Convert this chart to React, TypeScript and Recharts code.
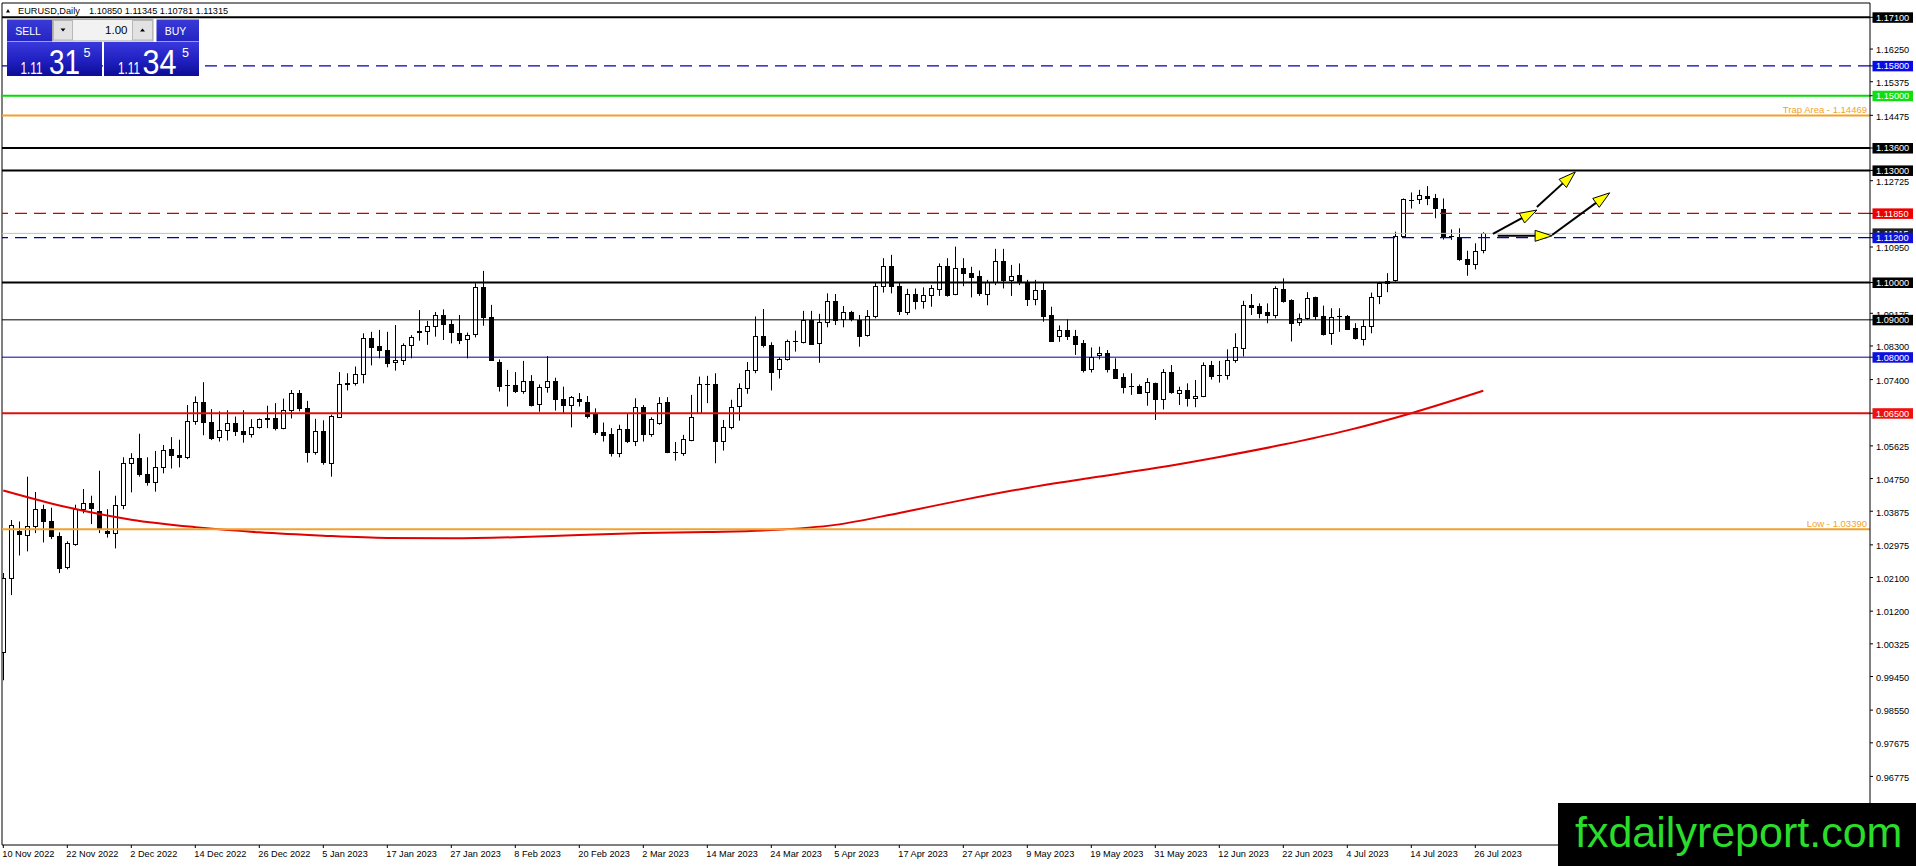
import React from 'react';
import { ComposedChart, Bar, Line, XAxis, YAxis, ReferenceLine } from 'recharts';

const FONT = '"Liberation Sans", Arial, sans-serif';

// ---------- DATA ----------
const xTickIndex = [0, 8, 16, 24, 32, 40, 48, 56, 64, 72, 80, 88, 96, 104, 112, 120, 128, 136, 144, 152, 160, 168, 176, 184];
const xTickLabels = [
  '10 Nov 2022', '22 Nov 2022', '2 Dec 2022', '14 Dec 2022', '26 Dec 2022', '5 Jan 2023',
  '17 Jan 2023', '27 Jan 2023', '8 Feb 2023', '20 Feb 2023', '2 Mar 2023', '14 Mar 2023',
  '24 Mar 2023', '5 Apr 2023', '17 Apr 2023', '27 Apr 2023', '9 May 2023', '19 May 2023',
  '31 May 2023', '12 Jun 2023', '22 Jun 2023', '4 Jul 2023', '14 Jul 2023', '26 Jul 2023',
];

const opens = [
  1.0009, 1.0208, 1.0334, 1.0323, 1.0348, 1.0394, 1.0362, 1.0322, 1.0240, 1.0299,
  1.0393, 1.0409, 1.0389, 1.0334, 1.0329, 1.0404, 1.0516, 1.0530, 1.0487, 1.0465,
  1.0505, 1.0554, 1.0538, 1.0532, 1.0629, 1.0679, 1.0626, 1.0586, 1.0604, 1.0623,
  1.0602, 1.0594, 1.0613, 1.0637, 1.0637, 1.0609, 1.0658, 1.0704, 1.0663, 1.0546,
  1.0602, 1.0518, 1.0639, 1.0731, 1.0729, 1.0754, 1.0851, 1.0829, 1.0819, 1.0786,
  1.0792, 1.0832, 1.0871, 1.0869, 1.0883, 1.0912, 1.0888, 1.0864, 1.0848, 1.0860,
  1.0987, 1.0907, 1.0786, 1.0725, 1.0725, 1.0708, 1.0736, 1.0675, 1.0719, 1.0735,
  1.0687, 1.0671, 1.0687, 1.0681, 1.0648, 1.0601, 1.0594, 1.0543, 1.0607, 1.0574,
  1.0666, 1.0594, 1.0623, 1.0679, 1.0546, 1.0543, 1.0577, 1.0650, 1.0727, 1.0727,
  1.0574, 1.0612, 1.0670, 1.0717, 1.0765, 1.0856, 1.0832, 1.0768, 1.0794, 1.0843,
  1.0841, 1.0900, 1.0837, 1.0893, 1.0950, 1.0901, 1.0920, 1.0900, 1.0858, 1.0909,
  1.0990, 1.1043, 1.0990, 1.0922, 1.0969, 1.0951, 1.0965, 1.0983, 1.1044, 1.0968,
  1.1038, 1.1026, 1.1017, 1.0971, 1.1002, 1.1057, 1.1007, 1.1020, 1.1002, 1.0957,
  1.0980, 1.0913, 1.0858, 1.0873, 1.0858, 1.0837, 1.0768, 1.0804, 1.0810, 1.0769,
  1.0748, 1.0724, 1.0723, 1.0705, 1.0730, 1.0687, 1.0759, 1.0703, 1.0711, 1.0690,
  1.0696, 1.0780, 1.0750, 1.0752, 1.0791, 1.0826, 1.0941, 1.0937, 1.0920, 1.0913,
  1.0983, 1.0953, 1.0893, 1.0904, 1.0960, 1.0911, 1.0864, 1.0910, 1.0910, 1.0877,
  1.0850, 1.0884, 1.0962, 1.0999, 1.1005, 1.1124, 1.1222, 1.1223, 1.1231, 1.1225,
  1.1198, 1.1125, 1.1121, 1.1062, 1.1049, 1.1085,
];

const highs = [
  1.0222, 1.0364, 1.0360, 1.0480, 1.0439, 1.0405, 1.0397, 1.0331, 1.0307, 1.0405,
  1.0447, 1.0429, 1.0496, 1.0393, 1.0429, 1.0532, 1.0543, 1.0595, 1.0532, 1.0549,
  1.0565, 1.0586, 1.0579, 1.0672, 1.0695, 1.0733, 1.0661, 1.0655, 1.0658, 1.0641,
  1.0658, 1.0634, 1.0636, 1.0670, 1.0677, 1.0689, 1.0712, 1.0712, 1.0683, 1.0635,
  1.0631, 1.0646, 1.0760, 1.0757, 1.0775, 1.0864, 1.0868, 1.0873, 1.0868, 1.0886,
  1.0837, 1.0859, 1.0926, 1.0897, 1.0921, 1.0928, 1.0900, 1.0913, 1.0866, 1.0998,
  1.1031, 1.0940, 1.0794, 1.0766, 1.0760, 1.0790, 1.0752, 1.0727, 1.0803, 1.0745,
  1.0721, 1.0696, 1.0704, 1.0696, 1.0663, 1.0625, 1.0610, 1.0619, 1.0650, 1.0690,
  1.0672, 1.0639, 1.0693, 1.0693, 1.0573, 1.0592, 1.0699, 1.0748, 1.0750, 1.0757,
  1.0632, 1.0686, 1.0730, 1.0787, 1.0909, 1.0929, 1.0840, 1.0800, 1.0847, 1.0871,
  1.0924, 1.0924, 1.0916, 1.0971, 1.0969, 1.0937, 1.0924, 1.0913, 1.0926, 1.1000,
  1.1065, 1.1074, 1.1000, 1.0983, 1.0984, 1.0987, 1.0993, 1.1051, 1.1065, 1.1096,
  1.1065, 1.1042, 1.1032, 1.1007, 1.1090, 1.1090, 1.1047, 1.1051, 1.1007, 1.1007,
  1.1000, 1.0935, 1.0885, 1.0901, 1.0873, 1.0846, 1.0826, 1.0828, 1.0819, 1.0797,
  1.0757, 1.0757, 1.0727, 1.0744, 1.0732, 1.0768, 1.0779, 1.0721, 1.0730, 1.0739,
  1.0786, 1.0790, 1.0790, 1.0821, 1.0864, 1.0951, 1.0969, 1.0944, 1.0944, 1.0990,
  1.1011, 1.0955, 1.0917, 1.0974, 1.0962, 1.0938, 1.0931, 1.0931, 1.0913, 1.0891,
  1.0900, 1.0973, 1.1002, 1.1025, 1.1136, 1.1225, 1.1241, 1.1248, 1.1258, 1.1237,
  1.1225, 1.1142, 1.1145, 1.1085, 1.1105, 1.11345,
];

const lows = [
  0.9935, 1.0163, 1.0269, 1.0280, 1.0329, 1.0304, 1.0313, 1.0222, 1.0232, 1.0295,
  1.0382, 1.0353, 1.0329, 1.0317, 1.0288, 1.0393, 1.0438, 1.0480, 1.0456, 1.0440,
  1.0489, 1.0502, 1.0505, 1.0527, 1.0619, 1.0591, 1.0578, 1.0574, 1.0577, 1.0589,
  1.0571, 1.0585, 1.0609, 1.0610, 1.0604, 1.0607, 1.0636, 1.0655, 1.0518, 1.0539,
  1.0512, 1.0480, 1.0637, 1.0711, 1.0724, 1.0730, 1.0778, 1.0797, 1.0773, 1.0764,
  1.0779, 1.0797, 1.0844, 1.0833, 1.0855, 1.0846, 1.0837, 1.0835, 1.0797, 1.0853,
  1.0884, 1.0790, 1.0708, 1.0668, 1.0704, 1.0702, 1.0668, 1.0654, 1.0705, 1.0657,
  1.0650, 1.0612, 1.0668, 1.0636, 1.0592, 1.0574, 1.0534, 1.0532, 1.0570, 1.0562,
  1.0574, 1.0587, 1.0619, 1.0543, 1.0523, 1.0536, 1.0575, 1.0648, 1.0677, 1.0516,
  1.0550, 1.0607, 1.0630, 1.0702, 1.0757, 1.0826, 1.0711, 1.0743, 1.0791, 1.0815,
  1.0837, 1.0835, 1.0785, 1.0880, 1.0886, 1.0880, 1.0896, 1.0828, 1.0855, 1.0904,
  1.0973, 1.0971, 1.0913, 1.0913, 1.0928, 1.0930, 1.0935, 1.0964, 1.0962, 1.0966,
  1.0990, 1.0960, 1.0964, 1.0939, 1.0993, 1.0984, 1.0964, 1.0993, 1.0937, 1.0939,
  1.0895, 1.0842, 1.0841, 1.0846, 1.0806, 1.0759, 1.0759, 1.0794, 1.0759, 1.0744,
  1.0703, 1.0699, 1.0702, 1.0670, 1.0632, 1.0660, 1.0702, 1.0672, 1.0668, 1.0666,
  1.0693, 1.0740, 1.0732, 1.0740, 1.0785, 1.0802, 1.0913, 1.0904, 1.0891, 1.0904,
  1.0946, 1.0842, 1.0884, 1.0900, 1.0900, 1.0858, 1.0833, 1.0868, 1.0873, 1.0847,
  1.0831, 1.0864, 1.0942, 1.0974, 1.1002, 1.1122, 1.1198, 1.1210, 1.1207, 1.1172,
  1.1115, 1.1114, 1.1058, 1.1018, 1.1035, 1.10781,
];

const closes = [
  1.0208, 1.0350, 1.0326, 1.0348, 1.0393, 1.0363, 1.0323, 1.0237, 1.0303, 1.0393,
  1.0409, 1.0395, 1.0341, 1.0328, 1.0404, 1.0516, 1.0530, 1.0487, 1.0465, 1.0505,
  1.0551, 1.0538, 1.0532, 1.0629, 1.0679, 1.0626, 1.0582, 1.0604, 1.0623, 1.0602,
  1.0594, 1.0613, 1.0634, 1.0633, 1.0609, 1.0658, 1.0704, 1.0663, 1.0546, 1.0602,
  1.0518, 1.0643, 1.0727, 1.0727, 1.0754, 1.0851, 1.0828, 1.0817, 1.0785, 1.0792,
  1.0832, 1.0853, 1.0867, 1.0883, 1.0912, 1.0888, 1.0866, 1.0846, 1.0860, 1.0987,
  1.0906, 1.0792, 1.0721, 1.0725, 1.0708, 1.0736, 1.0672, 1.0720, 1.0735, 1.0687,
  1.0671, 1.0693, 1.0681, 1.0644, 1.0601, 1.0594, 1.0543, 1.0607, 1.0574, 1.0666,
  1.0594, 1.0634, 1.0677, 1.0545, 1.0543, 1.0580, 1.0639, 1.0727, 1.0724, 1.0574,
  1.0612, 1.0666, 1.0717, 1.0765, 1.0856, 1.0832, 1.0759, 1.0794, 1.0843, 1.0841,
  1.0900, 1.0837, 1.0893, 1.0950, 1.0900, 1.0920, 1.0900, 1.0858, 1.0909, 1.0990,
  1.1043, 1.0990, 1.0922, 1.0969, 1.0951, 1.0966, 1.0984, 1.1044, 1.0967, 1.1038,
  1.1025, 1.1016, 1.0971, 1.1002, 1.1057, 1.1007, 1.1017, 1.1000, 1.0957, 1.0980,
  1.0910, 1.0844, 1.0873, 1.0857, 1.0837, 1.0766, 1.0800, 1.0810, 1.0768, 1.0746,
  1.0721, 1.0722, 1.0705, 1.0733, 1.0687, 1.0759, 1.0705, 1.0711, 1.0690, 1.0696,
  1.0779, 1.0750, 1.0752, 1.0793, 1.0826, 1.0941, 1.0935, 1.0919, 1.0913, 1.0984,
  1.0950, 1.0891, 1.0904, 1.0958, 1.0909, 1.0862, 1.0907, 1.0907, 1.0876, 1.0849,
  1.0884, 1.0962, 1.0998, 1.1005, 1.1124, 1.1223, 1.1220, 1.1233, 1.1225, 1.1198,
  1.1124, 1.1123, 1.1062, 1.1049, 1.1084, 1.11315,
];

// moving average read at sample bars
const maIndex = [0, 8, 16, 24, 32, 40, 48, 56, 64, 72, 80, 88, 96, 104, 112, 120, 128, 136, 144, 152, 160, 168, 176, 185];
const maValues = [
  1.0443, 1.0398, 1.0365, 1.0345, 1.0331, 1.0322, 1.0316, 1.0315, 1.0318, 1.0324, 1.0329, 1.0332,
  1.0337, 1.0351, 1.0383, 1.0418, 1.0450, 1.0477, 1.0503, 1.0533, 1.0566, 1.0604, 1.0650, 1.0710,
];

const plainTicks = [
  1.1625, 1.15375, 1.14475, 1.12725, 1.1095, 1.09175, 1.083, 1.074, 1.05625, 1.0475, 1.03875,
  1.02975, 1.021, 1.012, 1.00325, 0.9945, 0.9855, 0.97675, 0.96775,
];
const levelPrices = [1.171, 1.158, 1.15, 1.136, 1.13, 1.1185, 1.112, 1.1, 1.09, 1.08, 1.065];
const bidPrice = 1.11315;
const trapPrice = 1.14469;
const lowPrice = 1.0339;

// arrows: from (bar, price) to (bar, price)
const arrowFromBar = [186.2, 191.7, 186.8, 193.6];
const arrowFromPrice = [1.113, 1.1202, 1.1125, 1.1127];
const arrowToBar = [191.7, 196.5, 193.6, 200.8];
const arrowToPrice = [1.1194, 1.1296, 1.1125, 1.124];

// ---------- STYLES ----------
const levelStyle: Record<string, { stroke: string; width: number; dash?: string; box: string }> = {
  '1.17100': { stroke: '#000000', width: 2, box: '#000000' },
  '1.15800': { stroke: '#0000B4', width: 1.2, dash: '12 7', box: '#0A0AE6' },
  '1.15000': { stroke: '#00DD00', width: 2, box: '#11DD11' },
  '1.13600': { stroke: '#000000', width: 2, box: '#000000' },
  '1.13000': { stroke: '#000000', width: 2, box: '#000000' },
  '1.11850': { stroke: '#CC0000', width: 1.2, dash: '12 7', box: '#EE0000' },
  '1.11200': { stroke: '#0000B0', width: 1.2, dash: '12 7', box: '#1010DD' },
  '1.10000': { stroke: '#000000', width: 2, box: '#000000' },
  '1.09000': { stroke: '#000000', width: 1, box: '#000000' },
  '1.08000': { stroke: '#0000A0', width: 1, box: '#1010DD' },
  '1.06500': { stroke: '#DD1111', width: 2, box: '#EE1111' },
};
const bidBox = '#202020';
const ORANGE = '#F2A22C';

const xDomain: [number, number] = [-0.1625, 233.3375];
const yDomain: [number, number] = [0.94939, 1.17483];

const rows = opens.map((o, i) => {
  const k = maIndex.indexOf(i);
  return {
    i,
    open: o,
    high: highs[i],
    low: lows[i],
    close: closes[i],
    range: [lows[i], highs[i]],
    ma: k >= 0 ? maValues[k] : null,
  };
});

const yTickList = [...plainTicks, bidPrice, ...levelPrices];

// ---------- SHAPES ----------
const Candle = (props: any) => {
  const { x, y, width, height, payload } = props;
  if (x == null || y == null || !payload) return null;
  const top = Math.min(y, y + height);
  const h = Math.abs(height);
  const rng = payload.high - payload.low;
  const k = rng > 0 ? h / rng : 0;
  const py = (v: number) => top + (payload.high - v) * k;
  const cx = Math.floor(x + width / 2) + 0.5;
  const yo = py(payload.open);
  const yc = py(payload.close);
  const bt = Math.min(yo, yc);
  const bb = Math.max(yo, yc);
  const bull = payload.close >= payload.open;
  return (
    <g>
      <line x1={cx} x2={cx} y1={top} y2={top + h} stroke="#000" strokeWidth={1} />
      {bb - bt < 1.2 ? (
        <line x1={cx - 2.5} x2={cx + 2.5} y1={Math.round(bt) + 0.5} y2={Math.round(bt) + 0.5} stroke="#000" strokeWidth={1} />
      ) : (
        <rect x={cx - 2} y={Math.round(bt) + 0.5} width={4} height={Math.max(1, Math.round(bb - bt))} fill={bull ? '#fff' : '#000'} stroke="#000" strokeWidth={1} />
      )}
    </g>
  );
};

const ArrowShape = (p: any) => {
  const { x1, y1, x2, y2 } = p;
  if ([x1, y1, x2, y2].some((v) => v == null || isNaN(v))) return null;
  const dx = x2 - x1;
  const dy = y2 - y1;
  const len = Math.hypot(dx, dy) || 1;
  const ux = dx / len;
  const uy = dy / len;
  const hl = 17;
  const hw = 5.5;
  const bx = x2 - ux * hl;
  const by = y2 - uy * hl;
  const pts = `${x2},${y2} ${bx - uy * hw},${by + ux * hw} ${bx + uy * hw},${by - ux * hw}`;
  return (
    <g>
      <line x1={x1} y1={y1} x2={bx + ux * 3} y2={by + uy * 3} stroke="#000" strokeWidth={2} />
      <polygon points={pts} fill="#FFFF00" stroke="#000" strokeWidth={1} />
    </g>
  );
};

const YTick = (props: any) => {
  const { x, y, payload } = props;
  const v = Number(payload.value);
  const key = v.toFixed(5);
  const st = levelStyle[key];
  const isBid = Math.abs(v - bidPrice) < 1e-7;
  if (st || isBid) {
    return (
      <g>
        <rect x={x - 2.5} y={y - 5} width={40.5} height={10.5} fill={isBid ? bidBox : st.box} />
        <text x={x + 1} y={y + 3.4} fill="#fff" fontSize={9.2} fontFamily={FONT}>{key}</text>
      </g>
    );
  }
  return (
    <text x={x + 1} y={y + 4.3} fill="#000" fontSize={9.2} fontFamily={FONT}>{key}</text>
  );
};

const XTick = (props: any) => {
  const { x, y, payload } = props;
  const k = xTickIndex.indexOf(payload.value);
  if (k < 0) return null;
  return (
    <text x={x - 1} y={y + 7.3} fill="#000" fontSize={9.2} fontFamily={FONT} textAnchor="start">
      {xTickLabels[k]}
    </text>
  );
};

const sideLabel = (text: string) => (p: any) => {
  const vb = p.viewBox || {};
  return (
    <text x={vb.x + vb.width - 3} y={vb.y - 2.5} textAnchor="end" fill={ORANGE} fontSize={9.5} fontFamily={FONT}>
      {text}
    </text>
  );
};

// ---------- APP ----------
export default function App() {
  return (
    <div style={{ position: 'absolute', left: 0, top: 0, width: 1916, height: 866, background: '#fff', overflow: 'hidden', fontFamily: FONT }}>
      <ComposedChart width={1916} height={866} data={rows} margin={{ top: 3, right: 0, bottom: 0, left: 2 }}>
        <XAxis
          dataKey="i"
          type="number"
          domain={xDomain}
          allowDataOverflow
          ticks={xTickIndex}
          interval={0}
          height={21}
          tickSize={3}
          tickLine={{ stroke: '#000' }}
          axisLine={{ stroke: '#000' }}
          tick={<XTick />}
        />
        <YAxis
          orientation="right"
          type="number"
          domain={yDomain}
          allowDataOverflow
          ticks={yTickList}
          interval={0}
          width={46}
          tickSize={3}
          tickLine={{ stroke: '#000' }}
          axisLine={{ stroke: '#000' }}
          tick={<YTick />}
        />
        <ReferenceLine y={yDomain[1]} stroke="#000" strokeWidth={1} ifOverflow="visible" />
        <ReferenceLine x={xDomain[0]} stroke="#000" strokeWidth={1} ifOverflow="visible" />

        <Bar dataKey="range" barSize={6} shape={<Candle />} isAnimationActive={false} />

        <Line
          dataKey="ma"
          type="monotone"
          connectNulls
          dot={false}
          activeDot={false}
          stroke="#E00000"
          strokeWidth={2}
          isAnimationActive={false}
        />

        <ReferenceLine y={bidPrice} stroke="#C0C0C0" strokeWidth={1} />
        {levelPrices.map((p) => {
          const st = levelStyle[p.toFixed(5)];
          return (
            <ReferenceLine
              key={p}
              y={p}
              stroke={st.stroke}
              strokeWidth={st.width}
              strokeDasharray={st.dash}
            />
          );
        })}
        <ReferenceLine y={trapPrice} stroke={ORANGE} strokeWidth={2} label={sideLabel('Trap Area - 1.14469')} />
        <ReferenceLine y={lowPrice} stroke={ORANGE} strokeWidth={2} label={sideLabel('Low - 1.03390')} />

        {arrowFromBar.map((fx, k) => (
          <ReferenceLine
            key={'arr' + k}
            ifOverflow="visible"
            segment={[
              { x: fx, y: arrowFromPrice[k] },
              { x: arrowToBar[k], y: arrowToPrice[k] },
            ]}
            shape={ArrowShape}
          />
        ))}
      </ComposedChart>

      {/* header + trade panel */}
      <svg width={240} height={92} style={{ position: 'absolute', left: 0, top: 0 }}>
        <defs>
          <linearGradient id="pricegrad" x1="0" y1="0" x2="0" y2="1">
            <stop offset="0" stopColor="#3838DC" />
            <stop offset="0.55" stopColor="#2020C0" />
            <stop offset="1" stopColor="#0C0C96" />
          </linearGradient>
          <linearGradient id="btngrad" x1="0" y1="0" x2="0" y2="1">
            <stop offset="0" stopColor="#3A3AD8" />
            <stop offset="1" stopColor="#2424C4" />
          </linearGradient>
        </defs>
        <polygon points="6,12.5 8,9 10,12.5" fill="#000" />
        <text x={18} y={14} fontSize={9.2} fontFamily={FONT} fill="#000">EURUSD,Daily</text>
        <text x={89} y={14} fontSize={9.2} fontFamily={FONT} fill="#000">1.10850 1.11345 1.10781 1.11315</text>

        <rect x={7} y={19.5} width={45} height={22} fill="url(#btngrad)" />
        <text x={28} y={35} textAnchor="middle" fontSize={10.5} fontFamily={FONT} fill="#fff">SELL</text>
        <line x1={9} x2={51} y1={41.5} y2={41.5} stroke="#9C9CF4" strokeWidth={1} />

        <rect x={52.5} y={19.5} width={100.5} height={21.5} fill="#F2F2F2" stroke="#A8A8A8" />
        <rect x={53.5} y={20.5} width={19} height={19.5} fill="#E2E2E2" stroke="#B8B8B8" />
        <polygon points="60.5,28.5 65.5,28.5 63,31.5" fill="#000" />
        <rect x={132.5} y={20.5} width={20} height={19.5} fill="#E2E2E2" stroke="#B8B8B8" />
        <polygon points="140,31.5 145,31.5 142.5,28.5" fill="#000" />
        <text x={127.5} y={33.5} textAnchor="end" fontSize={11.5} fontFamily={FONT} fill="#000">1.00</text>

        <rect x={156.5} y={19.5} width={42.5} height={22} fill="url(#btngrad)" />
        <text x={175.5} y={35} textAnchor="middle" fontSize={10.5} fontFamily={FONT} fill="#fff">BUY</text>
        <line x1={158} x2={198} y1={41.5} y2={41.5} stroke="#9C9CF4" strokeWidth={1} />

        <rect x={7} y={42} width={95} height={34} fill="url(#pricegrad)" />
        <text x={20.5} y={74} fontSize={16} textLength={22} lengthAdjust="spacingAndGlyphs" fontFamily={FONT} fill="#fff">1.11</text>
        <text x={49} y={74} fontSize={35} textLength={31} lengthAdjust="spacingAndGlyphs" fontFamily={FONT} fill="#fff">31</text>
        <text x={83.5} y={56.5} fontSize={12.5} fontFamily={FONT} fill="#fff">5</text>

        <rect x={104} y={42} width={95} height={34} fill="url(#pricegrad)" />
        <text x={118} y={74} fontSize={16} textLength={22} lengthAdjust="spacingAndGlyphs" fontFamily={FONT} fill="#fff">1.11</text>
        <text x={142.5} y={74} fontSize={35} textLength={34} lengthAdjust="spacingAndGlyphs" fontFamily={FONT} fill="#fff">34</text>
        <text x={182} y={56.5} fontSize={12.5} fontFamily={FONT} fill="#fff">5</text>
      </svg>

      {/* watermark */}
      <svg width={358} height={63} style={{ position: 'absolute', left: 1558, top: 803 }}>
        <rect x={0} y={0} width={358} height={63} fill="#000" />
        <text x={17} y={44} fontSize={43} fontFamily={FONT} fill="#2BDD2B">fxdailyreport.com</text>
      </svg>
    </div>
  );
}
